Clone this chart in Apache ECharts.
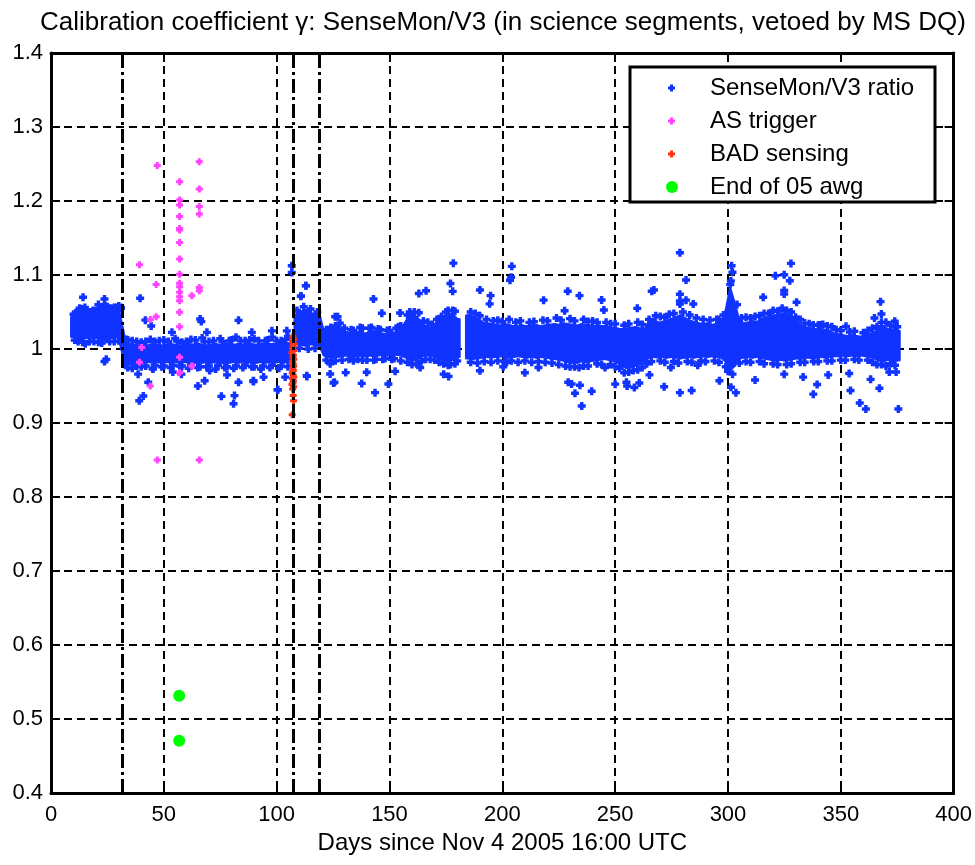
<!DOCTYPE html>
<html><head><meta charset="utf-8">
<script src="https://cdn.jsdelivr.net/npm/echarts@6/dist/echarts.min.js"></script>
<style>html,body{margin:0;padding:0;background:#fff}#c{width:975px;height:865px}</style>
</head><body><div id="c"></div>
<script>
const titleText = 'Calibration coefficient γ: SenseMon/V3 (in science segments, vetoed by MS DQ)';
const xAxisTitle = 'Days since Nov 4 2005 16:00 UTC';
const xTicks = [0, 50, 100, 150, 200, 250, 300, 350, 400];
const yTicks = [0.4, 0.5, 0.6, 0.7, 0.8, 0.9, 1.0, 1.1, 1.2, 1.3, 1.4];
const yTickLabels = ['0.4', '0.5', '0.6', '0.7', '0.8', '0.9', '1', '1.1', '1.2', '1.3', '1.4'];
const seriesNames = ['SenseMon/V3 ratio', 'AS trigger', 'BAD sensing', 'End of 05 awg'];
const vetoDays = [31.5, 107.5, 118.7];

// dense core of the SenseMon/V3 ratio cloud: day, lower edge, upper edge
const bandDays = [10,12,14,16,18,20,22,24,26,28,30,
  33,35,37,39,41,43,45,47,49,51,53,55,57,59,61,63,65,67,69,71,73,75,77,79,81,83,85,87,89,91,93,95,97,99,101,103,105,
  109,111,113,115,117,119,
  121,123,125,127,129,131,133,135,137,139,141,143,145,147,149,151,153,155,
  158,160,162,164,166,168,170,172,174,176,178,180,
  185,187,189,191,193,195,197,199,201,203,205,207,209,211,213,215,217,219,221,223,225,227,229,231,233,235,237,239,241,243,245,247,249,251,253,255,257,259,261,263,265,267,269,271,273,275,277,279,281,283,285,287,289,291,293,295,297,299,301,303,305,307,309,311,313,315,317,319,321,323,325,327,329,331,333,335,337,339,341,343,345,347,349,351,353,355,357,359,361,363,365,367,369,371,373,375];
const bandLow = [1.017,1.015,1.014,1.016,1.015,1.016,1.013,1.012,1.016,1.015,1.017,
  0.979,0.980,0.981,0.982,0.982,0.983,0.982,0.983,0.982,0.983,0.982,0.983,0.982,0.983,0.982,0.983,0.981,0.982,0.983,0.982,0.983,0.982,0.981,0.982,0.983,0.982,0.983,0.982,0.983,0.982,0.983,0.982,0.983,0.982,0.983,0.982,0.983,
  1.008,1.006,1.005,1.007,1.006,1.005,
  0.992,0.990,0.989,0.990,0.991,0.992,0.990,0.991,0.992,0.991,0.992,0.991,0.992,0.993,0.992,0.993,0.993,0.992,
  0.988,0.985,0.986,0.990,0.992,0.992,0.990,0.988,0.985,0.984,0.986,0.990,
  0.988,0.987,0.988,0.989,0.990,0.989,0.990,0.991,0.990,0.989,0.990,0.991,0.990,0.989,0.990,0.989,0.990,0.989,0.988,0.987,0.986,0.985,0.983,0.982,0.982,0.984,0.983,0.984,0.985,0.986,0.987,0.986,0.985,0.982,0.978,0.975,0.976,0.978,0.980,0.985,0.989,0.990,0.989,0.990,0.989,0.990,0.989,0.988,0.989,0.990,0.989,0.990,0.991,0.990,0.991,0.990,0.989,0.984,0.972,0.978,0.988,0.989,0.990,0.989,0.990,0.988,0.987,0.986,0.985,0.986,0.985,0.986,0.987,0.988,0.988,0.989,0.988,0.989,0.990,0.989,0.990,0.991,0.991,0.992,0.991,0.992,0.991,0.992,0.991,0.990,0.988,0.985,0.984,0.986,0.984,0.985];
const bandHigh = [1.043,1.044,1.050,1.047,1.045,1.046,1.049,1.053,1.049,1.050,1.052,
  1.008,1.006,1.005,1.004,1.005,1.004,1.006,1.005,1.004,1.005,1.006,1.005,1.004,1.005,1.006,1.005,1.007,1.005,1.004,1.005,1.006,1.005,1.006,1.007,1.005,1.006,1.005,1.007,1.006,1.005,1.006,1.007,1.006,1.006,1.007,1.008,1.007,
  1.045,1.050,1.052,1.048,1.046,1.044,
  1.020,1.022,1.025,1.030,1.024,1.022,1.020,1.021,1.023,1.020,1.022,1.024,1.021,1.020,1.019,1.021,1.022,1.025,
  1.040,1.045,1.043,1.035,1.030,1.028,1.032,1.038,1.043,1.047,1.046,1.040,
  1.045,1.043,1.040,1.036,1.034,1.033,1.032,1.031,1.033,1.032,1.030,1.030,1.031,1.030,1.031,1.032,1.030,1.031,1.032,1.033,1.032,1.034,1.033,1.032,1.031,1.033,1.032,1.031,1.030,1.031,1.030,1.029,1.028,1.027,1.026,1.027,1.028,1.029,1.027,1.026,1.036,1.040,1.035,1.036,1.038,1.040,1.042,1.045,1.041,1.038,1.036,1.034,1.033,1.034,1.032,1.033,1.035,1.050,1.080,1.060,1.036,1.034,1.035,1.037,1.036,1.040,1.042,1.044,1.045,1.046,1.048,1.045,1.040,1.035,1.030,1.028,1.027,1.026,1.027,1.025,1.024,1.020,1.019,1.018,1.017,1.018,1.017,1.016,1.018,1.020,1.022,1.028,1.030,1.026,1.025,1.024];

// SenseMon/V3 ratio outliers: [day, ratio]
const ratioPoints = [
  [14.2,1.070],[12.7,1.055],[18.6,1.052],[23.7,1.0675],[21.0,1.060],[15.2,1.007],[23.7,0.983],[24.5,0.986],[11.5,1.012],[28,1.056],[30,1.058],
  [39.5,1.0685],[41.8,1.039],[44.4,1.031],[53.6,1.0225],[66.1,1.0405],[66.6,1.037],[69.1,1.0225],[83.1,1.0387],[89.0,1.0225],[97.9,1.0245],[104.5,1.0245],[106.7,1.1126],[106.7,1.1035],[113,1.0855],[110.8,1.0715],[125.9,1.0437],
  [38.6,0.966],[39.1,0.930],[40.9,0.9365],[43.1,0.955],[45.2,0.973],[54.0,0.969],[57.8,0.966],[65.1,0.950],[68.1,0.957],[70.3,0.971],[75.5,0.936],[80.9,0.926],[81.3,0.937],[78.0,0.965],[83.1,0.955],[89.7,0.957],[94.2,0.962],[100.5,0.945],[113.3,0.964],[123.7,0.980],[125.6,0.955],
  [178.3,1.116],[204.2,1.1117],[203.4,1.093],[203.9,1.097],[177,1.0886],[166.2,1.0787],[163,1.075],[178,1.0779],[190.1,1.0797],[194.8,1.0721],[142.9,1.0676],[110.7,1.0712],[112.9,1.0856],[127,1.0436],[146.6,1.0482],[154.7,1.0486],[194.4,1.061],[218.3,1.066],[229,1.078],[234.2,1.0721],[227.6,1.0517],
  [149.5,0.9527],[152.5,0.9698],[137.7,0.9535],[143.6,0.941],[123.7,0.9662],[125.2,0.954],[113.4,0.963],[130.6,0.9681],[139.9,0.9685],[163.6,0.975],[174,0.966],[176.2,0.963],[190.1,0.9707],[200.4,0.976],[201.9,0.982],[210,0.968],[216,0.975],[229.2,0.955],[230.7,0.9526],[232.2,0.9401],[234.4,0.951],[235.2,0.923],[239.6,0.943],[103.8,0.962],[100.4,0.945],[89.7,0.956],
  [278.7,1.130],[281.4,1.0933],[301.6,1.1126],[302.0,1.1036],[301.3,1.092],[301.0,1.087],[327.9,1.1157],[327.4,1.0923],[324.9,1.1004],[321,1.099],[324.9,1.079],[324.9,1.0744],[315.6,1.0699],[266.2,1.078],[267.2,1.0797],[278.7,1.074],[278.7,1.065],[278.7,1.0608],[284.6,1.0608],[281.4,1.066],[244,1.0662],[245,1.0527],[259.8,1.0549],[330.4,1.0631],[367.6,1.0640],[368,1.0473],[364.9,1.042],[373.9,1.0374],[352.3,1.0306],[337.8,1.0324],[340.7,1.0324],
  [278.7,0.941],[283.9,0.944],[271.7,0.949],[258.5,0.948],[255,0.955],[255.3,0.950],[260.7,0.954],[250,0.9525],[245.5,0.975],[265.2,0.965],[274.7,0.975],[286.6,0.978],[301.3,0.9482],[303.5,0.941],[296.2,0.957],[312,0.958],[324.9,0.966],[333.3,0.962],[337.8,0.939],[339.5,0.952],[344.4,0.965],[353.7,0.967],[354.3,0.944],[358.4,0.927],[361.1,0.919],[363.2,0.959],[367.1,0.947],[371.5,0.969],[374.5,0.969],[375.5,0.919]
];
// ragged edge of the SenseMon/V3 ratio cloud, hugging the core: [day, ratio]
const ratioEdge = [
  [11,1.049],[13,1.050],[16,1.052],[19,1.050],[22,1.054],[25,1.057],[27,1.054],[31,1.055],[12,1.010],[17,1.010],[21,1.009],[26,1.010],[30,1.011],
  [10,1.047],[10.5,1.012],[13.5,1.054],[15,1.056],[17.5,1.050],[20,1.052],[23,1.057],[24,1.058],[26.5,1.055],[29,1.056],[31,1.056],[14,1.009],[19,1.010],[22.5,1.008],[28,1.010],
  [34,1.012],[38,1.010],[42,1.010],[48,1.011],[52,1.010],[56,1.011],[60,1.010],[64,1.012],[68,1.010],[72,1.011],[76,1.010],[80,1.012],[84,1.011],[88,1.012],[92,1.011],[96,1.012],[100,1.011],[104,1.013],
  [34,0.975],[38,0.977],[42,0.977],[46,0.978],[50,0.977],[54,0.978],[58,0.977],[62,0.978],[66,0.976],[70,0.977],[74,0.978],[78,0.976],[82,0.977],[86,0.978],[90,0.976],[94,0.977],[98,0.978],[102,0.977],
  [33.5,1.013],[36,1.011],[40,1.009],[44,1.013],[46,1.010],[50,1.012],[55,1.014],[58,1.009],[62,1.013],[67,1.015],[70,1.010],[75,1.014],[79,1.011],[82,1.016],[86,1.011],[90,1.014],[95,1.011],[98,1.016],[102,1.011],[105,1.017],
  [36,0.974],[40,0.976],[45,0.974],[49,0.976],[53,0.975],[57,0.977],[61,0.974],[65,0.975],[69,0.976],[73,0.973],[77,0.975],[81,0.974],[85,0.975],[89,0.976],[93,0.973],[97,0.975],[101,0.974],[105,0.976],
  [109,1.052],[112,1.057],[115,1.054],[118,1.050],[110,1.001],[114,1.000],[117,1.001],
  [122,1.026],[126,1.031],[130,1.028],[134,1.025],[138,1.028],[142,1.029],[146,1.026],[150,1.025],[154,1.030],[122,0.985],[126,0.984],[132,0.986],[136,0.986],[140,0.985],[144,0.986],[148,0.987],[152,0.987],[155,0.984],
  [124,1.029],[128,1.035],[133,1.026],[137,1.029],[141,1.028],[145,1.027],[149,1.025],[153,1.028],[155,1.031],[124,0.984],[129,0.985],[134,0.984],[138,0.985],[143,0.985],[147,0.986],[151,0.986],
  [158,1.046],[161,1.050],[165,1.038],[169,1.033],[173,1.044],[176,1.052],[179,1.051],[158,0.982],[162,0.980],[166,0.986],[170,0.985],[174,0.980],[177,0.979],[180,0.984],
  [159,1.050],[163,1.049],[167,1.036],[171,1.040],[175,1.050],[178,1.052],[160,0.979],[164,0.983],[168,0.986],[172,0.982],[176,0.978],[179,0.980],
  [186,1.050],[190,1.045],[196,1.038],[200,1.037],[206,1.036],[212,1.036],[220,1.038],[226,1.039],[232,1.038],[238,1.037],[242,1.036],[248,1.034],[254,1.032],[262,1.033],[268,1.045],[272,1.043],[276,1.048],[280,1.050],[286,1.042],[292,1.039],[296,1.040],[306,1.042],[310,1.042],[314,1.045],[318,1.048],[322,1.051],[326,1.052],[330,1.043],[334,1.035],[340,1.032],[344,1.031],[348,1.026],[354,1.023],[360,1.022],[366,1.030],[370,1.036],[374,1.030],
  [186,0.982],[192,0.983],[198,0.984],[204,0.984],[210,0.984],[216,0.983],[222,0.981],[228,0.977],[232,0.976],[236,0.977],[242,0.980],[248,0.979],[252,0.974],[256,0.969],[260,0.972],[264,0.980],[270,0.984],[276,0.983],[282,0.983],[288,0.984],[294,0.984],[300,0.970],[302,0.966],[308,0.983],[314,0.983],[320,0.980],[326,0.979],[332,0.982],[338,0.983],[344,0.984],[350,0.985],[356,0.986],[362,0.985],[368,0.979],[372,0.980],
  [188,1.048],[193,1.040],[198,1.039],[203,1.040],[208,1.038],[214,1.037],[218,1.039],[224,1.042],[230,1.041],[236,1.040],[240,1.038],[246,1.036],[250,1.034],[256,1.034],[260,1.036],[265,1.040],[270,1.044],[274,1.047],[283,1.046],[289,1.040],[295,1.040],[298,1.046],[304,1.060],[308,1.043],[312,1.044],[316,1.048],[320,1.052],[324,1.055],[328,1.050],[332,1.040],[336,1.034],[342,1.033],[346,1.030],[350,1.025],[356,1.024],[362,1.025],[364,1.028],[368,1.036],[372,1.032],[375,1.030],
  [189,0.981],[195,0.982],[201,0.983],[207,0.982],[213,0.982],[219,0.982],[225,0.979],[230,0.976],[234,0.975],[238,0.977],[244,0.979],[250,0.976],[254,0.968],[258,0.971],[262,0.975],[266,0.983],[272,0.982],[278,0.981],[284,0.982],[290,0.983],[296,0.982],[299,0.976],[305,0.981],[310,0.982],[316,0.980],[322,0.979],[328,0.980],[334,0.982],[340,0.983],[346,0.984],[352,0.985],[358,0.985],[364,0.982],[366,0.979],[370,0.977],[374,0.978]
];
const asTriggerPoints = [
  [39.2,1.114],[46.6,1.087],[44.0,1.040],[46.6,1.0435],[39.2,0.982],[40.2,1.002],[44.0,0.950],[47.1,1.248],[47.1,0.850],[65.7,0.850],
  [57,1.226],[57,1.2014],[57,1.1945],[57,1.179],[57,1.163],[57,1.1607],[57,1.144],[57,1.1215],[57,1.101],[57,1.0887],[57,1.084],[57,1.0767],[57,1.0707],[57,1.0653],[57,1.0495],[57,1.0302],[57,0.9888],[57,0.968],
  [65.7,1.253],[65.7,1.2161],[65.7,1.1927],[65.7,1.1824],[65.7,1.083],[65.7,1.0788],[62.4,1.0721],[62.4,0.977]
];
const badSensingPoints = [
  [107.2,1.017],[107.5,1.013],[107.0,1.010],[107.6,1.007],[107.3,1.004],[107.1,1.000],[107.5,0.998],[106.8,0.995],[107.4,0.992],[107.2,0.989],[107.6,0.986],[107.0,0.983],[107.3,0.980],[107.5,0.977],[107.1,0.974],[107.4,0.971],[106.9,0.968],[107.3,0.965],[107.6,0.962],[107.0,0.960],[107.4,0.957],[107.2,0.954],[106.8,0.952],[107.5,0.949],[107.1,0.946],[107.3,0.937],[107.5,0.930],[106.9,0.911]
];
const endAwgPoints = [[56.8,0.5315],[56.8,0.4707]];

const FONT = '"Liberation Sans", Arial, Helvetica, sans-serif';
const BLUE = '#1133ff', PINK = '#ff44ff', RED = '#ff3311', GREEN = '#00ff00';
const PLUS = 'path://M2,0H5V2H7V5H5V7H2V5H0V2H2Z';
const BAND_CAP = 0.9;     // half-day cap at segment ends
const BAND_JOIN = 3.5;    // max gap (days) bridged inside a segment

const chart = echarts.init(document.getElementById('c'), null, {renderer: 'canvas'});
const bandData = bandDays.map((d, i) => [d, bandLow[i], bandHigh[i]]);
const frameLine = {show: true, onZero: false, lineStyle: {color: '#000', width: 3}};
const innerTick = {show: true, inside: true, length: 9, lineStyle: {color: '#000', width: 2}};
const gridDash = {show: true, lineStyle: {color: '#000', width: 2, type: [8, 5]}};

function bandPiece(api, a, b) {
  const pts = [api.coord([a[0], a[2]]), api.coord([b[0], b[2]]), api.coord([b[0], b[1]]), api.coord([a[0], a[1]])];
  return {type: 'polygon', shape: {points: pts}, style: {fill: BLUE, stroke: BLUE, lineWidth: 3, lineJoin: 'round'}};
}

chart.setOption({
  animation: false,
  backgroundColor: '#fff',
  textStyle: {fontFamily: FONT},
  title: {text: titleText, left: 40, top: 10, padding: 0,
    textStyle: {fontFamily: FONT, fontSize: 26, fontWeight: 'normal', color: '#000'}},
  grid: {left: 51, right: 21, top: 53, bottom: 72, show: false},
  xAxis: [
    {type: 'value', min: xTicks[0], max: xTicks[xTicks.length - 1], interval: 50, position: 'bottom',
     axisLine: frameLine, axisTick: innerTick, splitLine: gridDash,
     axisLabel: {fontSize: 22, color: '#000', margin: 11, fontFamily: FONT,
       formatter: v => String(xTicks.find(t => Math.abs(t - v) < 1e-6))},
     name: xAxisTitle, nameLocation: 'middle', nameGap: 29,
     nameTextStyle: {fontSize: 24, color: '#000', fontFamily: FONT}},
    {type: 'value', min: xTicks[0], max: xTicks[xTicks.length - 1], interval: 50, position: 'top',
     axisLine: frameLine, axisTick: innerTick, axisLabel: {show: false}, splitLine: {show: false}}
  ],
  yAxis: [
    {type: 'value', min: 0.4, max: 1.4, interval: 0.1, position: 'left',
     axisLine: frameLine, axisTick: innerTick, splitLine: gridDash,
     axisLabel: {fontSize: 22, color: '#000', margin: 8, fontFamily: FONT,
       formatter: v => { const i = yTicks.findIndex(t => Math.abs(t - v) < 1e-6); return i >= 0 ? yTickLabels[i] : ''; }}},
    {type: 'value', min: 0.4, max: 1.4, interval: 0.1, position: 'right',
     axisLine: frameLine, axisTick: innerTick, axisLabel: {show: false}, splitLine: {show: false}}
  ],
  legend: [
    {data: seriesNames.slice(0, 3), orient: 'vertical', left: 668, top: 76, padding: 0,
     itemWidth: 7, itemHeight: 7, itemGap: 9, selectedMode: false, z: 6,
     textStyle: {fontSize: 24, lineHeight: 24, color: '#000', fontFamily: FONT, padding: [0, 0, 0, 30]}},
    {data: seriesNames.slice(3), orient: 'vertical', left: 666, top: 175, padding: 0,
     itemWidth: 12, itemHeight: 12, selectedMode: false, z: 6,
     textStyle: {fontSize: 24, lineHeight: 24, color: '#000', fontFamily: FONT, padding: [0, 0, 0, 27]}}
  ],
  graphic: [
    {type: 'rect', z: 5, shape: {x: 630, y: 67, width: 305, height: 135},
     style: {fill: '#fff', stroke: '#000', lineWidth: 3}}
  ],
  series: [
    {type: 'custom', name: 'core', xAxisIndex: 0, yAxisIndex: 0, z: 2, silent: true,
     encode: {x: 0, y: [1, 2]}, data: bandData,
     renderItem: (params, api) => {
       const i = params.dataIndex;
       const cur = bandData[i], prev = bandData[i - 1], next = bandData[i + 1];
       const children = [];
       if (!prev || cur[0] - prev[0] > BAND_JOIN) {
         children.push(bandPiece(api, [cur[0] - BAND_CAP, cur[1], cur[2]], cur));
       }
       if (next && next[0] - cur[0] <= BAND_JOIN) {
         children.push(bandPiece(api, cur, next));
       } else {
         children.push(bandPiece(api, cur, [cur[0] + BAND_CAP, cur[1], cur[2]]));
       }
       return {type: 'group', children};
     }},
    {type: 'scatter', name: seriesNames[0], data: ratioPoints.concat(ratioEdge), symbol: PLUS, symbolSize: 8, z: 2,
     itemStyle: {color: BLUE, opacity: 1}},
    {type: 'scatter', name: seriesNames[1], data: asTriggerPoints, symbol: PLUS, symbolSize: 7, z: 3,
     itemStyle: {color: PINK, opacity: 1},
     markLine: {silent: true, symbol: 'none', label: {show: false}, animation: false,
       lineStyle: {color: '#000', width: 3, type: [14, 4, 3, 4]},
       data: vetoDays.map(d => ({xAxis: d}))}},
    {type: 'scatter', name: seriesNames[2], data: badSensingPoints, symbol: PLUS, symbolSize: 7, z: 4,
     itemStyle: {color: RED, opacity: 1}},
    {type: 'scatter', name: seriesNames[3], data: endAwgPoints, symbol: 'circle', symbolSize: 12, z: 4,
     itemStyle: {color: GREEN, opacity: 1}}
  ]
});
</script></body></html>
